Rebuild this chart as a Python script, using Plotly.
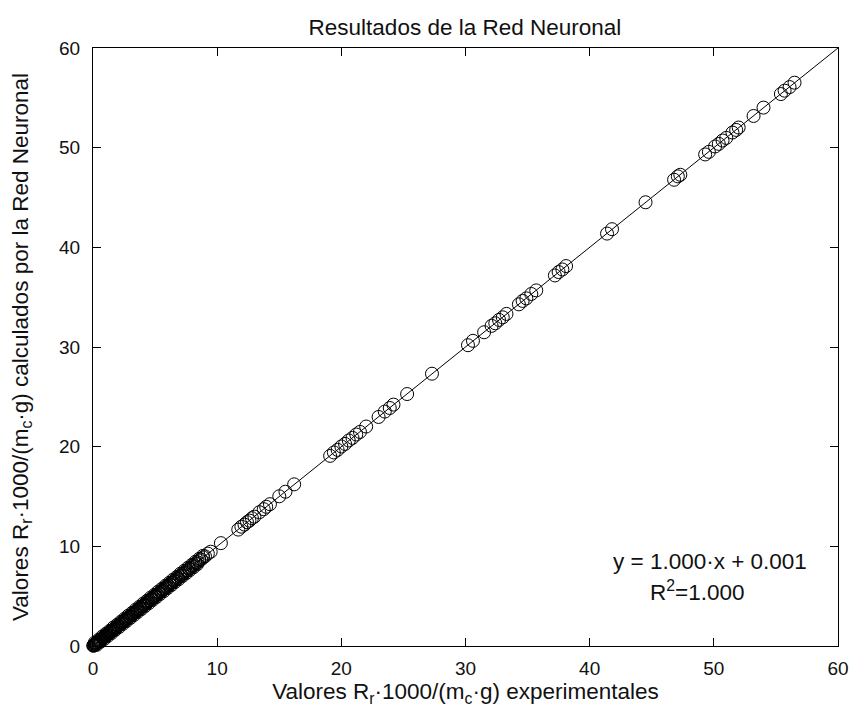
import plotly.graph_objects as go

# Experimental values (x) and network outputs (y)
x_exp = [
    0.02, 0.05, 0.08, 0.10, 0.13, 0.16, 0.20, 0.24, 0.28, 0.31, 0.35, 0.40, 0.44, 0.48, 0.53,
    0.58, 0.62, 0.67, 0.72, 0.77, 0.82, 0.88, 0.93, 0.99, 1.05, 1.10, 1.16, 1.22, 1.28, 1.35,
    1.41, 1.47, 1.54, 1.60, 1.67, 1.74, 1.80, 1.87, 1.94, 2.01, 2.08, 2.15, 2.23, 2.30, 2.38,
    2.45, 2.53, 2.61, 2.68, 2.76, 2.84, 2.92, 3.00, 3.08, 3.17, 3.25, 3.33, 3.42, 3.50, 3.59,
    3.67, 3.76, 3.85, 3.94, 4.03, 4.12, 4.21, 4.30, 4.39, 4.48, 4.58, 4.67, 4.77, 4.86, 4.96,
    5.05, 5.15, 5.25, 5.35, 5.45, 5.55, 5.65, 5.76, 5.86, 5.96, 6.07, 6.18, 6.29, 6.40, 6.52,
    6.63, 6.75, 6.86, 6.98, 7.10, 7.22, 7.35, 7.47, 7.60, 7.73, 7.86, 8.00, 8.13, 8.27, 8.42,
    8.56, 8.71, 8.86, 9.02, 9.25, 9.48, 10.30,
    0.15, 0.45, 0.75, 1.05, 1.35, 1.65, 1.95, 2.25, 2.55, 2.85, 3.15, 3.45, 3.75, 4.05, 4.35,
    4.65, 4.95, 5.25, 5.55, 5.85, 6.15, 6.45, 6.75, 7.05, 7.35, 7.65, 7.95, 8.25, 8.55, 8.85,
    0.30, 0.60, 0.90, 1.20, 1.50, 1.80, 2.10, 2.40, 2.70, 3.00, 3.30, 3.60, 3.90, 4.20, 4.50,
    4.80, 5.10, 5.40, 5.70, 6.00, 6.30, 6.60, 6.90, 7.20, 7.50, 7.80, 8.10, 8.40,
    11.70, 11.95, 12.20, 12.40, 12.60, 12.80, 13.00, 13.40, 13.75, 13.95, 14.25, 15.00, 15.50, 16.20,
    19.10, 19.40, 19.70, 20.00, 20.30, 20.60, 20.90, 21.20, 21.50, 22.00, 23.00, 23.50, 23.90, 24.20, 25.30,
    27.30,
    30.20, 30.60, 31.50, 32.10, 32.40, 32.70, 33.00, 33.30, 34.30, 34.60, 34.90, 35.30, 35.70,
    37.20, 37.50, 37.80, 38.10,
    41.40, 41.80, 44.50, 46.80, 47.10, 47.30,
    49.30, 49.60, 50.10, 50.40, 50.70, 51.00, 51.50, 51.80, 52.00, 53.20, 54.00, 55.40, 55.70, 56.10, 56.50,
]
y_net = [
    0.03, 0.04, 0.09, 0.12, 0.11, 0.18, 0.19, 0.25, 0.27, 0.33, 0.34, 0.41, 0.43, 0.50, 0.52,
    0.59, 0.61, 0.68, 0.71, 0.79, 0.80, 0.90, 0.92, 1.01, 1.03, 1.12, 1.14, 1.24, 1.26, 1.37,
    1.39, 1.49, 1.52, 1.62, 1.65, 1.76, 1.78, 1.89, 1.92, 2.03, 2.06, 2.17, 2.21, 2.32, 2.36,
    2.47, 2.51, 2.63, 2.66, 2.78, 2.82, 2.94, 2.98, 3.10, 3.15, 3.27, 3.31, 3.44, 3.48, 3.61,
    3.65, 3.78, 3.83, 3.96, 4.01, 4.14, 4.19, 4.32, 4.37, 4.50, 4.56, 4.69, 4.75, 4.88, 4.94,
    5.07, 5.13, 5.27, 5.33, 5.47, 5.53, 5.67, 5.74, 5.88, 5.94, 6.09, 6.16, 6.31, 6.38, 6.54,
    6.61, 6.77, 6.84, 7.00, 7.08, 7.24, 7.33, 7.49, 7.58, 7.75, 7.84, 8.02, 8.11, 8.29, 8.40,
    8.58, 8.69, 8.88, 9.00, 9.27, 9.46, 10.32,
    0.35, 0.62, 0.95, 1.24, 1.52, 1.86, 2.13, 2.44, 2.74, 3.05, 3.33, 3.66, 3.94, 4.26, 4.53,
    4.86, 5.13, 5.46, 5.74, 6.05, 6.34, 6.66, 6.93, 7.26, 7.54, 7.85, 8.13, 8.45, 8.74, 9.04,
    0.12, 0.43, 0.71, 1.02, 1.31, 1.63, 1.91, 2.22, 2.51, 2.82, 3.11, 3.42, 3.71, 4.02, 4.31,
    4.62, 4.91, 5.22, 5.51, 5.82, 6.11, 6.42, 6.71, 7.02, 7.31, 7.62, 7.91, 8.22,
    11.68, 11.97, 12.18, 12.42, 12.58, 12.82, 12.98, 13.42, 13.73, 13.97, 14.23, 15.02, 15.48, 16.22,
    19.08, 19.42, 19.68, 20.02, 20.28, 20.62, 20.88, 21.22, 21.48, 22.02, 22.98, 23.52, 23.88, 24.22, 25.28,
    27.32,
    30.18, 30.62, 31.48, 32.12, 32.38, 32.72, 32.98, 33.32, 34.28, 34.62, 34.88, 35.32, 35.68,
    37.18, 37.52, 37.78, 38.12,
    41.38, 41.82, 44.52, 46.78, 47.12, 47.28,
    49.32, 49.58, 50.12, 50.38, 50.72, 50.98, 51.52, 51.78, 52.02, 53.18, 54.02, 55.38, 55.72, 56.08, 56.52,
]

fit_x = [0, 60]
fit_slope = 1.000
fit_intercept = 0.001
fit_y = [fit_slope * v + fit_intercept for v in fit_x]

ticks = [0, 10, 20, 30, 40, 50, 60]
FONT = "Liberation Sans, Arial, sans-serif"
TXT = 22.5

fig = go.Figure()
fig.add_trace(go.Scatter(
    x=x_exp, y=y_net, mode="markers",
    marker=dict(symbol="circle-open", size=13, color="black", line=dict(width=1, color="black")),
    showlegend=False, cliponaxis=False,
))
fig.add_trace(go.Scatter(
    x=fit_x, y=fit_y, mode="lines",
    line=dict(color="black", width=1), showlegend=False,
))

axis_common = dict(
    range=[0, 60], tickvals=ticks, ticks="inside", ticklen=8, tickcolor="black",
    showline=True, linecolor="black", linewidth=1, mirror="ticks",
    showgrid=False, zeroline=False, tickfont=dict(family=FONT, size=19, color="#111"),
)
fig.update_xaxes(**axis_common, ticklabelstandoff=5,
                 title=dict(text="Valores R<sub>r</sub>·1000/(m<sub>c</sub>·g) experimentales",
                            font=dict(family=FONT, size=TXT, color="#111"), standoff=0))
fig.update_yaxes(**axis_common, ticklabelstandoff=8,
                 title=dict(text="Valores R<sub>r</sub>·1000/(m<sub>c</sub>·g) calculados por la Red Neuronal",
                            font=dict(family=FONT, size=TXT, color="#111"), standoff=24))

fig.add_annotation(x=0.828, y=0.142, xref="paper", yref="paper", xanchor="center", yanchor="middle",
                   text="y = 1.000·x + 0.001", showarrow=False,
                   font=dict(family=FONT, size=TXT, color="#111"))
fig.add_annotation(x=0.811, y=0.092, xref="paper", yref="paper", xanchor="center", yanchor="middle",
                   text="R<sup>2</sup>=1.000", showarrow=False,
                   font=dict(family=FONT, size=TXT, color="#111"))

fig.update_layout(
    width=861, height=710,
    margin=dict(l=93, r=13, t=48, b=64),
    paper_bgcolor="white", plot_bgcolor="white",
    title=dict(text="Resultados de la Red Neuronal", x=0.540, xanchor="center",
               y=0.962, yanchor="middle",
               font=dict(family=FONT, size=TXT, color="#111")),
)

fig.write_html("out.html")
